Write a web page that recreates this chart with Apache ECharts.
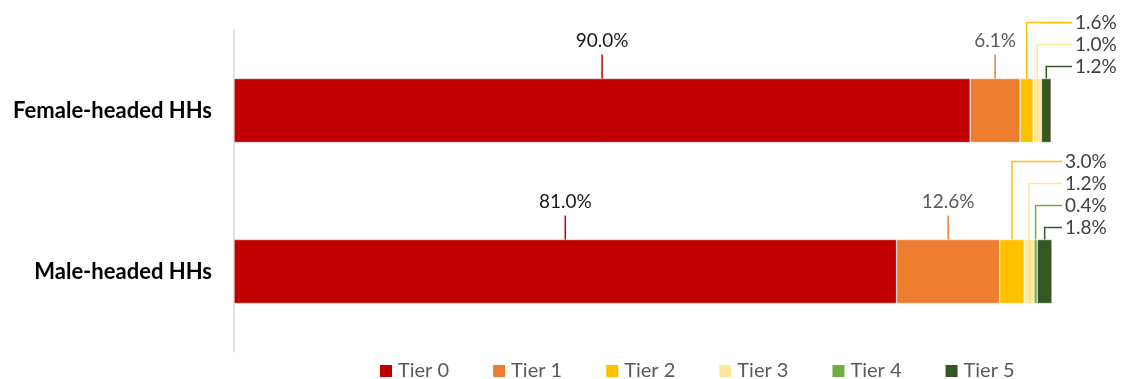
<!doctype html>
<html>
<head>
<meta charset="UTF-8">
<title>Tiers by household head</title>
<script src="https://cdn.jsdelivr.net/npm/echarts@6/dist/echarts.min.js"></script>
<style>
  html, body { margin: 0; padding: 0; background: #fff; }
  #main { width: 1122px; height: 379px; }
</style>
</head>
<body>
<div id="main"></div>
<script>
// data (percent)
var categories = ['Female-headed HHs', 'Male-headed HHs'];
var tierNames = ['Tier 0', 'Tier 1', 'Tier 2', 'Tier 3', 'Tier 4', 'Tier 5'];
var tier0 = [90.0, 81.0];
var tier1 = [6.1, 12.6];
var tier2 = [1.6, 3.0];
var tier3 = [1.0, 1.2];
var tier4 = [0, 0.4];
var tier5 = [1.2, 1.8];
var tierColors = ['#C00000', '#ED7D31', '#FFC000', '#FFE699', '#70AD47', '#375623'];

var values = [tier0, tier1, tier2, tier3, tier4, tier5];
var font = 'Lato, "Noto Sans", sans-serif';
var barW = 64;
var endOffset = [20, 10]; // where the elbow callouts stop, right of 100%

// callout points: middle of each segment, built from the stacked values
var calloutData = [];
for (var c = 0; c < categories.length; c++) {
    var cum = 0, small = [];
    for (var t = 0; t < values.length; t++) {
        var v = values[t][c];
        if (v > 0) {
            var item = [cum + v / 2, c, t, v, 0];
            calloutData.push(item);
            if (t >= 2) small.push(item);
        }
        cum += v;
    }
    for (var i = 0; i < small.length; i++) small[i][4] = small.length - 1 - i;
}

var series = tierNames.map(function (name, t) {
    return {
        name: name,
        type: 'bar',
        stack: 'total',
        barWidth: barW,
        itemStyle: { color: tierColors[t], borderColor: '#fff', borderWidth: 0.5 },
        emphasis: { disabled: true },
        data: values[t]
    };
});

series.push({
    type: 'custom',
    silent: true,
    z: 10,
    encode: { x: 0, y: 1 },
    data: calloutData,
    renderItem: function (params, api) {
        var x = api.value(0), c = api.value(1), t = api.value(2), v = api.value(3), k = api.value(4);
        var p = api.coord([x, c]);
        var top = p[1] - barW / 2;
        var col = tierColors[t];
        var txt = v.toFixed(1) + '%';
        if (t < 2) {
            return {
                type: 'group',
                children: [
                    { type: 'line', shape: { x1: p[0], y1: top, x2: p[0], y2: top - 24 },
                      style: { stroke: col, lineWidth: 1.5 } },
                    { type: 'text', style: { text: txt, x: p[0], y: top - 14 - 24,
                      fill: t === 0 ? '#1a1a1a' : '#595959', font: '19px ' + font,
                      textAlign: 'center', textVerticalAlign: 'middle', align: 'center', verticalAlign: 'middle' } }
                ]
            };
        }
        var ly = top - 12 - 22 * k;
        var ex = api.coord([100, c])[0] + endOffset[c];
        return {
            type: 'group',
            children: [
                { type: 'polyline', shape: { points: [[p[0], top], [p[0], ly], [ex, ly]] },
                  style: { stroke: col, lineWidth: 1.5, fill: null } },
                { type: 'text', style: { text: txt, x: ex + 3, y: ly, fill: '#404040', font: '19px ' + font,
                  textAlign: 'left', textVerticalAlign: 'middle', align: 'left', verticalAlign: 'middle' } }
            ]
        };
    }
});

var chart = echarts.init(document.getElementById('main'));
chart.setOption({
    animation: false,
    grid: { left: 234, right: 70, top: 30, bottom: 27 },
    legend: {
        data: tierNames,
        left: 378,
        top: 361,
        padding: 0,
        icon: 'rect',
        itemWidth: 14,
        itemHeight: 14,
        itemGap: 42,
        textStyle: { fontSize: 20, color: '#595959', fontFamily: font }
    },
    xAxis: {
        type: 'value',
        min: 0,
        max: 100,
        show: false
    },
    yAxis: {
        type: 'category',
        inverse: true,
        data: categories,
        axisLine: { show: true, lineStyle: { color: '#d9d9d9', width: 1.5 } },
        axisTick: { show: false },
        axisLabel: { fontSize: 22, fontWeight: 'bold', color: '#000', fontFamily: font, margin: 22 }
    },
    series: series
});
</script>
</body>
</html>
